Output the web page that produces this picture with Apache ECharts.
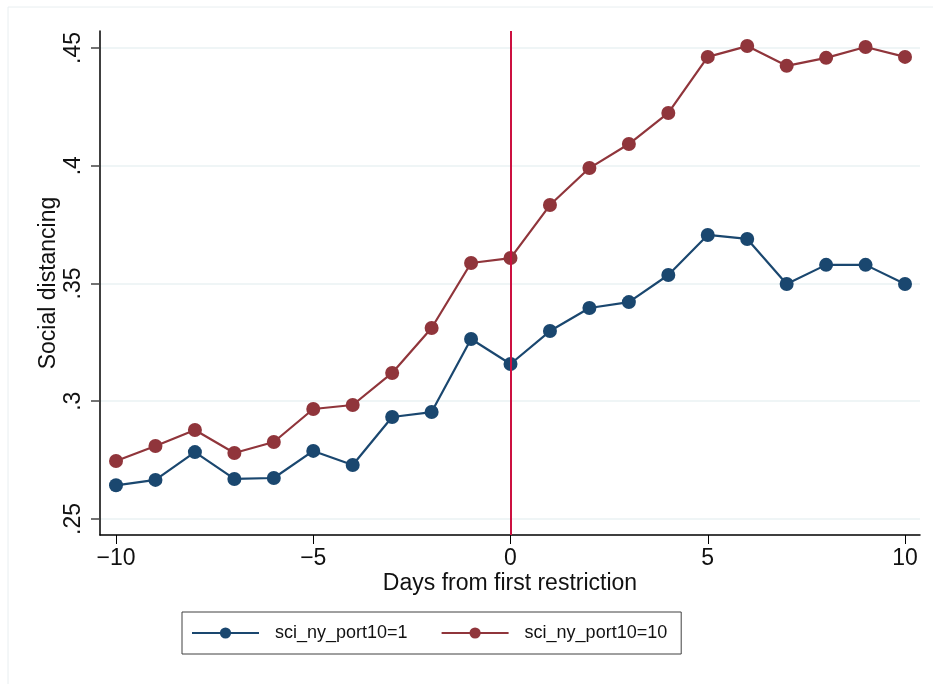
<!DOCTYPE html>
<html><head><meta charset="utf-8">
<script src="https://cdn.jsdelivr.net/npm/echarts@6/dist/echarts.min.js"></script>
<style>html,body{margin:0;padding:0;background:#fff}#c{width:933px;height:684px}</style>
</head><body><div id="c"></div>
<script>
const days = [-10,-9,-8,-7,-6,-5,-4,-3,-2,-1,0,1,2,3,4,5,6,7,8,9,10];
const port1 = [.2643,.2666,.2784,.2670,.2674,.2789,.2729,.2933,.2954,.3264,.3158,.3298,.3396,.3421,.3536,.3706,.3689,.3498,.3579,.3579,.3498];
const port10 = [.2746,.2810,.2878,.2780,.2827,.2967,.2984,.3120,.3311,.3587,.3608,.3833,.3990,.4092,.4224,.4462,.4508,.4424,.4458,.4504,.4462];
const xTicks = [-10,-5,0,5,10];
const yTicks = [.25,.3,.35,.4,.45];
const seriesNames = ['sci_ny_port10=1','sci_ny_port10=10'];
const colors = ['#1a476f','#90353b'];

const chart = echarts.init(document.getElementById('c'), null, {renderer:'canvas'});
const font = 'Liberation Sans, Arial, sans-serif';
chart.setOption({
  animation:false,
  backgroundColor:'#fff',
  graphic:[{type:'rect',shape:{x:8,y:7,width:940,height:700},style:{fill:'none',stroke:'#e8eef0',lineWidth:1},silent:true,z:-1}],
  grid:{left:100,right:13,top:31,bottom:149},
  legend:{
    data:seriesNames,
    left:182, top:612,
    orient:'horizontal',
    borderColor:'#404040', borderWidth:1,
    padding:[12,14,12,9],
    itemGap:33, itemWidth:67, itemHeight:14,
    textStyle:{fontFamily:font,fontSize:18,color:'#111',padding:[0,0,0,11]}
  },
  xAxis:{
    type:'value', min:-10.406, max:10.38,
    name:'Days from first restriction', nameLocation:'middle', nameGap:37, nameMoveOverlap:false,
    nameTextStyle:{fontFamily:font,fontSize:23,color:'#111'},
    axisLine:{onZero:false,lineStyle:{color:'#000',width:1.5}},
    axisTick:{show:true,length:9,customValues:xTicks,lineStyle:{color:'#000',width:1}},
    axisLabel:{customValues:xTicks,fontFamily:font,fontSize:23,color:'#111',margin:12,
      formatter:v=>String(v).replace('-','\u2212')},
    splitLine:{show:false}
  },
  yAxis:{
    type:'value', min:0.2432, max:0.4572,
    name:'Social distancing', nameLocation:'middle', nameGap:40, nameRotate:90, nameMoveOverlap:false,
    nameTextStyle:{fontFamily:font,fontSize:23,color:'#111'},
    axisLine:{show:true,onZero:false,lineStyle:{color:'#000',width:1.5}},
    axisTick:{show:true,length:9,customValues:yTicks,lineStyle:{color:'#444',width:1.5}},
    axisLabel:{customValues:yTicks,rotate:90,fontFamily:font,fontSize:23,color:'#111',margin:15,
      formatter:v=>String(+v.toFixed(2)).replace(/^0/,'')},
    splitLine:{show:true,lineStyle:{color:'#eaf2f3',width:1.5}}
  },
  series:[
    {name:seriesNames[0],type:'line',data:days.map((d,i)=>[d,port1[i]]),color:colors[0],
     symbol:'circle',symbolSize:14,lineStyle:{width:2.2},itemStyle:{color:colors[0]},z:3,
     markLine:{silent:true,symbol:'none',label:{show:false},lineStyle:{color:'#cc1040',width:2,type:'solid'},data:[{xAxis:0}]}},
    {name:seriesNames[1],type:'line',data:days.map((d,i)=>[d,port10[i]]),color:colors[1],
     symbol:'circle',symbolSize:14,lineStyle:{width:2.2},itemStyle:{color:colors[1]},z:3}
  ]
});
</script></body></html>
